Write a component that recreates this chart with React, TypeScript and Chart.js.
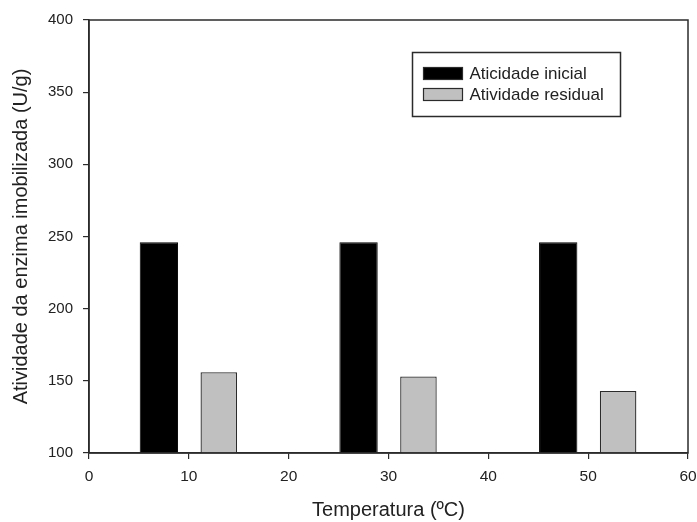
import React, { useEffect, useRef } from "react";
import { Chart, registerables } from "chart.js";

Chart.register(...registerables);

// Temperature groups and measured activities (U/g)
const temperatures = ["10", "30", "50"];
const atividadeInicial = [246, 246, 246];
const atividadeResidual = [156, 153, 143];

const seriesLabels = ["Aticidade inicial", "Atividade residual"];
const xTicks = { min: 0, max: 60, step: 10 };
const yTicks = { min: 100, max: 400, step: 50 };

const FONT = "'Liberation Sans', Arial, sans-serif";
const INK = "#2b2b2b";

// Frame around the plot area plus a boxed legend inside it
const framePlugin = {
  id: "frameAndLegend",
  afterDraw(chart: any) {
    const { ctx, chartArea: a } = chart;
    const w = a.right - a.left;
    const h = a.bottom - a.top;
    ctx.save();
    ctx.strokeStyle = INK;
    ctx.lineWidth = 1.5;
    ctx.strokeRect(a.left, a.top, w, h);

    const bx = Math.round(a.left + w * 0.539) + 0.5;
    const by = Math.round(a.top + h * 0.074) + 0.5;
    const bw = Math.round(w * 0.347);
    const bh = Math.round(h * 0.147);
    ctx.lineWidth = 1.5;
    ctx.strokeRect(bx, by, bw, bh);

    ctx.font = `17px ${FONT}`;
    ctx.textBaseline = "middle";
    ctx.textAlign = "left";
    chart.data.datasets.forEach((ds: any, i: number) => {
      const cy = by + 21 + i * 21;
      const sx = bx + 11;
      ctx.fillStyle = ds.backgroundColor;
      ctx.fillRect(sx, cy - 6, 39, 12);
      ctx.strokeStyle = INK;
      ctx.lineWidth = 1.2;
      ctx.strokeRect(sx, cy - 6, 39, 12);
      ctx.fillStyle = "#222";
      ctx.fillText(ds.label, sx + 46, cy + 1);
    });
    ctx.restore();
  },
};

export default function App() {
  const canvasRef = useRef<HTMLCanvasElement | null>(null);

  useEffect(() => {
    const canvas = canvasRef.current;
    if (!canvas) return;
    const chart = new Chart(canvas, {
      type: "bar",
      data: {
        labels: temperatures,
        datasets: [
          {
            label: seriesLabels[0],
            data: atividadeInicial,
            backgroundColor: "#000000",
            borderColor: "#000000",
            borderWidth: 1,
            borderSkipped: "start",
            base: yTicks.min,
            categoryPercentage: 0.6,
            barPercentage: 0.64,
          },
          {
            label: seriesLabels[1],
            data: atividadeResidual,
            backgroundColor: "#c0c0c0",
            borderColor: INK,
            borderWidth: 1.3,
            borderSkipped: "start",
            base: yTicks.min,
            categoryPercentage: 0.6,
            barPercentage: 0.61,
          },
        ],
      },
      options: {
        responsive: false,
        animation: false,
        layout: { padding: { top: 20, right: 9, bottom: 0, left: 0 } },
        plugins: {
          legend: { display: false },
          tooltip: { enabled: false },
        },
        scales: {
          x: {
            type: "category",
            display: false,
            offset: true,
          },
          x2: {
            type: "linear",
            position: "bottom",
            min: xTicks.min,
            max: xTicks.max,
            offset: false,
            afterFit: (s: any) => {
              s.height = 69;
              s.paddingLeft = 0;
              s.paddingRight = 0;
            },
            ticks: {
              stepSize: xTicks.step,
              padding: 8,
              color: "#222",
              font: { family: FONT, size: 15.5 },
            },
            grid: {
              offset: false,
              drawOnChartArea: false,
              drawTicks: true,
              tickLength: 6,
              color: INK,
              lineWidth: 1.2,
            },
            border: { display: true, color: INK, width: 1.5 },
            title: {
              display: true,
              text: "Temperatura (ºC)",
              color: "#222",
              font: { family: FONT, size: 20 },
              padding: { top: 0, bottom: 0 },
            },
          },
          y: {
            type: "linear",
            min: yTicks.min,
            max: yTicks.max,
            afterFit: (s: any) => {
              s.width = 89;
            },
            ticks: {
              stepSize: yTicks.step,
              padding: 10,
              color: "#222",
              font: { family: FONT, size: 15 },
            },
            grid: {
              drawOnChartArea: false,
              drawTicks: true,
              tickLength: 6,
              color: INK,
              lineWidth: 1.2,
            },
            border: { display: true, color: INK, width: 1.5 },
            title: {
              display: true,
              text: "Atividade da enzima imobilizada (U/g)",
              color: "#222",
              font: { family: FONT, size: 20 },
              padding: { top: 9, bottom: 0 },
            },
          },
        },
      },
      plugins: [framePlugin],
    } as any);
    return () => chart.destroy();
  }, []);

  return (
    <div style={{ position: "fixed", left: 0, top: 0, width: 697, height: 522, background: "#fff" }}>
      <canvas ref={canvasRef} width={697} height={522} style={{ display: "block" }} />
    </div>
  );
}
